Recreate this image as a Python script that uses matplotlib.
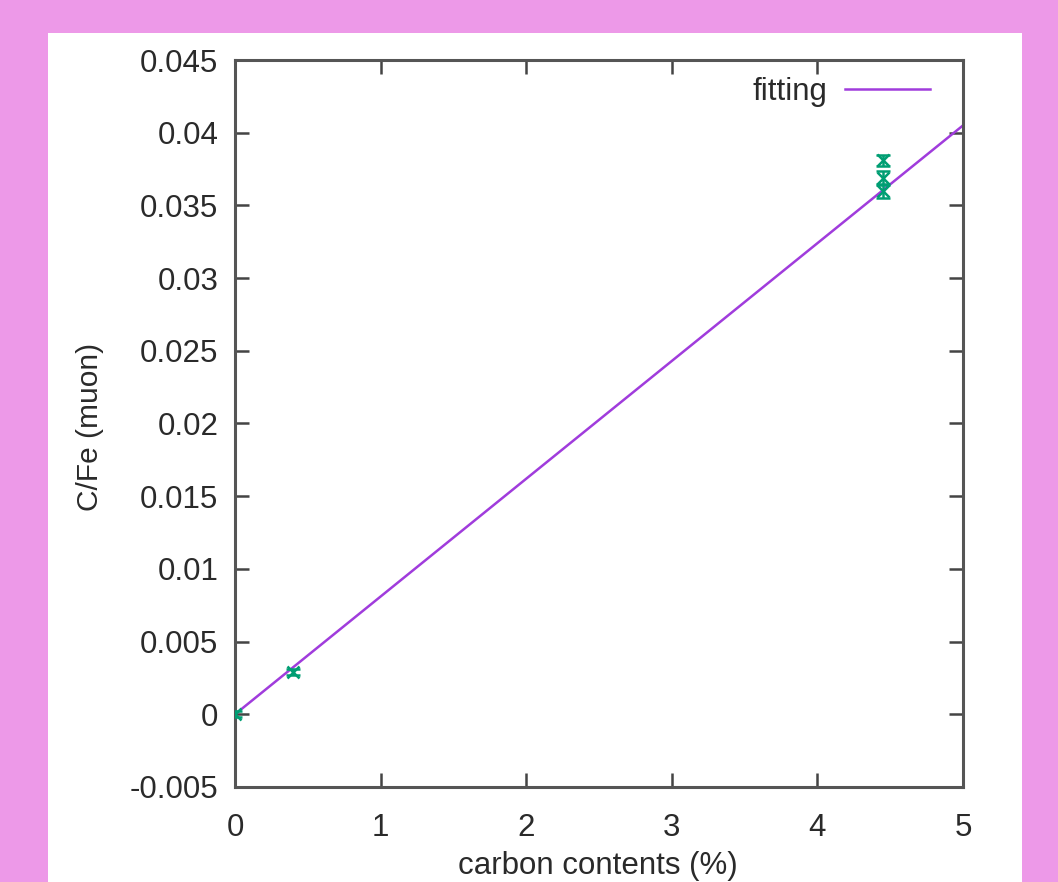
import numpy as np
import matplotlib
matplotlib.use('Agg')
import matplotlib.pyplot as plt
from matplotlib.patches import Rectangle

# measured points
carbon = [0.0, 0.4, 4.45, 4.45, 4.45]
cfe = [0.0, 0.0029, 0.0381, 0.0369, 0.0360]
cfe_err = [0.0002, 0.0002, 0.0004, 0.0005, 0.0005]

# linear fit
fit_x = [0.0, 5.0]
fit_slope = 0.0081

plt.rcParams['font.family'] = ['Liberation Sans', 'DejaVu Sans']
FS = 22.5
TXT = '#2a2a2a'

W, H = 1058, 882
fig = plt.figure(figsize=(W / 100, H / 100), dpi=100, facecolor='#ED99E8')
fig.patches.append(Rectangle((48 / W, 0), (1022 - 48) / W, (882 - 33) / H,
                             transform=fig.transFigure, facecolor='white',
                             edgecolor='none', zorder=-10))

ax = fig.add_axes([235 / W, (H - 787) / H, (963 - 235) / W, (787 - 60) / H])
ax.set_facecolor('white')

fx = np.array(fit_x)
ax.plot(fx, fit_slope * fx, color='#A03CDC', lw=1.8, label='fitting', zorder=2)
ax.errorbar(carbon, cfe, yerr=cfe_err, fmt='x', color='#009E73', ms=8, mew=1.8,
            elinewidth=1.8, capsize=5, capthick=1.8, zorder=3)

ax.set_xlim(0, 5)
ax.set_ylim(-0.005, 0.045)
ax.set_xticks(range(0, 6))
ax.set_yticks(np.arange(-0.005, 0.0451, 0.005))
ax.set_yticklabels(['-0.005', '0', '0.005', '0.01', '0.015', '0.02', '0.025',
                    '0.03', '0.035', '0.04', '0.045'])
ax.tick_params(direction='in', length=10, width=1.8, color='#444444',
               labelsize=FS, top=True, right=True, labelcolor=TXT)
ax.tick_params(axis='x', pad=19)
ax.tick_params(axis='y', pad=12)
for s in ax.spines.values():
    s.set_color('#555555')
    s.set_linewidth(2.2)

fig.text(90 / W, 1 - 427 / H, 'C/Fe (muon)', fontsize=21.5, color=TXT,
         rotation=90, ha='center', va='center')
fig.text(598 / W, 1 / H, 'carbon contents (%)', fontsize=FS, color=TXT,
         ha='center', va='bottom')

ax.legend(loc='upper right', bbox_to_anchor=(930 / W, (H - 77) / H),
          bbox_transform=fig.transFigure, frameon=False, markerfirst=False,
          handlelength=2.72, handletextpad=0.55, fontsize=FS, borderpad=0,
          borderaxespad=0, labelcolor=TXT)

fig.savefig('out.png', dpi=100, facecolor=fig.get_facecolor())
